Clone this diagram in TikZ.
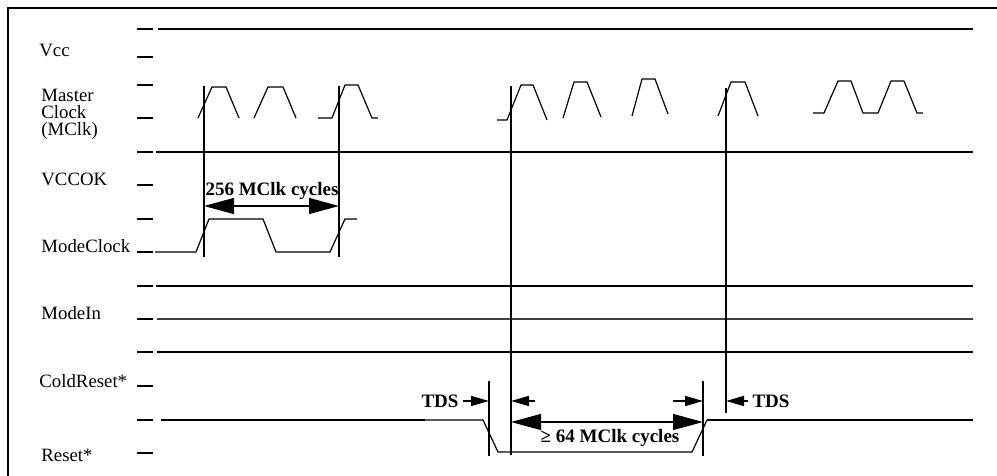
\documentclass[tikz,border=0pt]{standalone}
\usepackage{fontspec}
\setmainfont{Liberation Serif}
\usetikzlibrary{arrows.meta}

\tikzset{
  sig/.style={line width=1.3pt},
  edge/.style={line width=0.6pt, line join=round},
  tickmark/.style={line width=1.3pt},
  marker/.style={line width=1.2pt},
  lbl/.style={font=\fontsize{9.4}{11}\selectfont, inner sep=0pt, anchor=base west},
  dimlbl/.style={font=\fontsize{9.5}{10}\selectfont\bfseries, inner sep=0pt},
  bigarr/.style={line width=0.6pt, {Triangle[length=15pt,width=8pt]}-{Triangle[length=15pt,width=8pt]}},
  tdsarr/.style={line width=0.9pt, -{Triangle[length=9pt,width=5pt]}},
}

\begin{document}
\begin{tikzpicture}[x=0.5pt, y=-0.5pt]
        \useasboundingbox (0,0) rectangle (997,476);
        % Frame
        \draw[line width=1.35pt] (8,476) -- (8,8) -- (997,8);

        % Signal names
        \node[lbl] (vcc) at (39,57) {Vcc};
        \node[lbl] (mclka) at (41,102) {Master};
        \node[lbl] (mclkb) at (41,119) {Clock};
        \node[lbl] (mclkc) at (41,136) {(MClk)};
        \node[lbl] (vccok) at (41,185) {VCCOK};
        \node[lbl] (modeclk) at (41,252) {ModeClock};
        \node[lbl] (modein) at (41,319) {ModeIn};
        \node[lbl] (coldrst) at (39,387) {ColdReset*};
        \node[lbl] (rst) at (41,461) {Reset*};

        % Level ticks
        \foreach \y in {29,57,85,118,152,185,219,252,286,319,352,386,420,453}
            \draw[tickmark] (137,\y) -- (153,\y);

        % Vcc, VCCOK, ModeIn, ColdReset*
        \draw[sig] (158,29) -- (973,29);
        \draw[sig] (156,152) -- (973,152);
        \draw[sig] (156,286) -- (973,286);
        \draw[line width=0.8pt, black!75] (157,319) -- (973,319);
        \draw[sig] (157,352) -- (973,352);

        % Master Clock
        \draw[edge] (198,118) -- (212,87) -- (226,87) -- (239,118);
        \draw[edge] (254,118) -- (268,87) -- (283,87) -- (296,118);
        \draw[edge] (318,118) -- (332,118) -- (345,85) -- (358,85) -- (372,118) -- (378,118);
        \draw[edge] (497,120) -- (507,120) -- (521,85) -- (533,85) -- (547,120);
        \draw[edge] (563,118) -- (574,82) -- (587,82) -- (601,117);
        \draw[edge] (632,116) -- (642,79) -- (655,79) -- (668,114);
        \draw[edge] (718,116) -- (731,82) -- (745,82) -- (758,116);
        \draw[edge] (813,113) -- (824,113) -- (838,81) -- (851,81) -- (863,113) -- (878,113)
            -- (891,81) -- (904,81) -- (917,113) -- (923,113);

        % ModeClock
        \draw[edge] (155,252) -- (196,252) -- (209,219) -- (263,219) -- (276,252) -- (330,252)
            -- (345,219) -- (357,219);

        % Reset*
        \draw[sig] (161,420) -- (425,420);
        \draw[edge] (425,420) -- (483,420) -- (498,452) -- (692,452) -- (707,420);
        \draw[sig] (707,420) -- (973,420);

        % Reference lines
        \coordinate (m1t) at (204,86);  \coordinate (m1b) at (204,257);
        \coordinate (m2t) at (339,86);  \coordinate (m2b) at (339,257);
        \coordinate (m3t) at (511,86);  \coordinate (m3b) at (511,455);
        \coordinate (m4t) at (726,88);  \coordinate (m4b) at (726,413);
        \coordinate (t1t) at (489,381); \coordinate (t1b) at (489,456);
        \coordinate (t2t) at (703,381); \coordinate (t2b) at (703,456);
        \draw[marker] (m1t) -- (m1b);
        \draw[marker] (m2t) -- (m2b);
        \draw[marker] (m3t) -- (m3b);
        \draw[marker] (m4t) -- (m4b);
        \draw[line width=1pt] (t1t) -- (t1b);
        \draw[line width=1pt] (t2t) -- (t2b);

        % 256 MClk cycles
        \coordinate (c256l) at (m1t |- 0,206);
        \coordinate (c256r) at (m2t |- 0,206);
        \draw[bigarr] (c256l) -- (c256r);
        \node[dimlbl, anchor=base] (lbl256) at (272,196) {256 MClk cycles};

        % TDS and 64 MClk cycles
        \node[dimlbl] (tdsl) at (440,401) {TDS};
        \node[dimlbl] (tdsr) at (771,401) {TDS};
        \draw[tdsarr] (tdsl.east) ++(4,0) -- (t1t |- tdsl);
        \draw[tdsarr] (535,401) -- (m3t |- tdsl);
        \draw[tdsarr] (673,401) -- (t2t |- tdsl);
        \draw[tdsarr] (tdsr.west) ++(-4,0) -- (m4t |- tdsr);
        \coordinate (c64l) at (m3t |- 0,422);
        \coordinate (c64r) at (t2t |- 0,422);
        \draw[bigarr] (c64l) -- (c64r);
        \node[dimlbl, anchor=base] (lbl64) at (610,442) {≥ 64 MClk cycles};
\end{tikzpicture}
\end{document}
